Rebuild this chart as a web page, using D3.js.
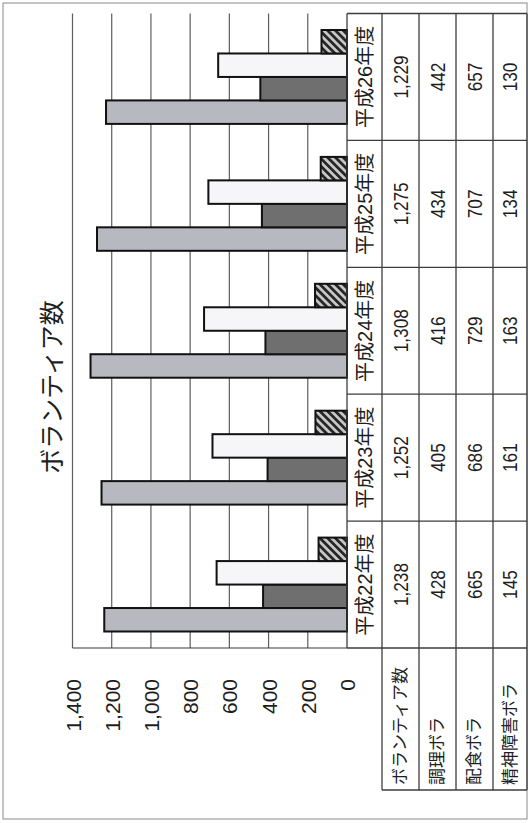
<!DOCTYPE html>
<html>
<head>
<meta charset="utf-8">
<script src="https://cdn.jsdelivr.net/npm/d3@7"></script>
<style>
	body { margin: 0; background: #fff; }
	text { font-family: "Liberation Sans", "Noto Sans CJK JP", sans-serif; fill: #1e1e1e; }
</style>
</head>
<body>
<script>
// data
var years = ['平成22年度', '平成23年度', '平成24年度', '平成25年度', '平成26年度'];
var seriesNames = ['ボランティア数', '調理ボラ', '配食ボラ', '精神障害ボラ'];
var volunteerTotal = [1238, 1252, 1308, 1275, 1229];
var cookingVol = [428, 405, 416, 434, 442];
var deliveryVol = [665, 686, 729, 707, 657];
var mentalVol = [145, 161, 163, 134, 130];
var yTicks = [0, 200, 400, 600, 800, 1000, 1200, 1400];
var chartTitle = 'ボランティア数';

var seriesValues = [volunteerTotal, cookingVol, deliveryVol, mentalVol];

// the page is a scanned chart turned on its side: draw it flat, then rotate
var W = 823, H = 528;
var props = {
	plotLeft: 175, plotRight: 809.5,
	plotTop: 72.5, plotBottom: 347,
	labelCol: 33,
	rowLines: [347, 382, 419, 456, 493, 527]
};

var svg = d3.select('body').append('svg')
	.attr('width', H)
	.attr('height', W);

var defs = svg.append('defs');
var hatch = defs.append('pattern')
	.attr('id', 'hatch')
	.attr('patternUnits', 'userSpaceOnUse')
	.attr('width', 5.5)
	.attr('height', 5.5)
	.attr('patternTransform', 'rotate(45)');
hatch.append('rect').attr('width', 5.5).attr('height', 5.5).attr('fill', '#c9c9c9');
hatch.append('rect').attr('width', 2.8).attr('height', 5.5).attr('fill', '#262626');

var fills = ['#b8b8c0', '#6f6f6f', '#f6f6f8', 'url(#hatch)'];

var g = svg.append('g')
	.attr('transform', 'translate(0,' + W + ') rotate(-90)');

// outer frame
g.append('rect')
	.attr('x', 4).attr('y', 3)
	.attr('width', 816).attr('height', 524)
	.attr('fill', 'none')
	.attr('stroke', '#8a8a8a')
	.attr('stroke-width', 1);

var x0 = d3.scaleBand()
	.domain(years)
	.range([props.plotLeft, props.plotRight]);

var x1 = d3.scaleBand()
	.domain(seriesNames)
	.range([16.5, x0.bandwidth() - 16.5]);

var y = d3.scaleLinear()
	.domain([0, 1400])
	.range([props.plotBottom, props.plotTop]);

// gridlines
g.append('g').selectAll('line')
	.data(yTicks.filter(function(d) { return d > 0; }))
	.enter().append('line')
		.attr('x1', props.plotLeft).attr('x2', props.plotRight)
		.attr('y1', function(d) { return y(d); })
		.attr('y2', function(d) { return y(d); })
		.attr('stroke', '#5e5e5e')
		.attr('stroke-width', 1.2);

// value axis line
g.append('line')
	.attr('x1', props.plotLeft).attr('x2', props.plotLeft)
	.attr('y1', y(1400)).attr('y2', y(0))
	.attr('stroke', '#3a3a3a')
	.attr('stroke-width', 1.2);

// tick labels
var yAxis = d3.axisLeft(y)
	.tickValues(yTicks)
	.tickFormat(d3.format(','))
	.tickSize(0)
	.tickPadding(0);

var axisG = g.append('g')
	.attr('transform', 'translate(144,0)')
	.call(yAxis);
axisG.select('.domain').remove();
axisG.selectAll('text')
	.attr('dy', null)
	.attr('dominant-baseline', 'central')
	.style('font-size', '21px')
	.style('font-family', '"Liberation Sans", Arial, sans-serif')
	.style('fill', '#1e1e1e');

// bars
var groups = g.append('g').selectAll('g')
	.data(years)
	.enter().append('g')
		.attr('transform', function(d) { return 'translate(' + x0(d) + ',0)'; });

groups.selectAll('rect')
	.data(function(d, i) {
		return seriesNames.map(function(s, j) {
			return { series: s, idx: j, value: seriesValues[j][i] };
		});
	})
	.enter().append('rect')
		.attr('x', function(d) { return x1(d.series); })
		.attr('width', x1.bandwidth())
		.attr('y', function(d) { return y(d.value); })
		.attr('height', function(d) { return y(0) - y(d.value); })
		.attr('fill', function(d) { return fills[d.idx]; })
		.attr('stroke', '#111')
		.attr('stroke-width', 2);

// data table
var table = g.append('g');
var lineColor = '#3c3c3c';

// horizontal rules
props.rowLines.forEach(function(v, i) {
	table.append('line')
		.attr('x1', i === 0 ? props.plotLeft : props.labelCol)
		.attr('x2', props.plotRight)
		.attr('y1', v).attr('y2', v)
		.attr('stroke', lineColor)
		.attr('stroke-width', 1.3);
});

// vertical rules
var colEdges = years.map(function(d) { return x0(d); }).concat([props.plotRight]);
colEdges.forEach(function(u) {
	table.append('line')
		.attr('x1', u).attr('x2', u)
		.attr('y1', props.rowLines[0]).attr('y2', props.rowLines[5])
		.attr('stroke', lineColor)
		.attr('stroke-width', 1.3);
});
table.append('line')
	.attr('x1', props.labelCol).attr('x2', props.labelCol)
	.attr('y1', props.rowLines[1]).attr('y2', props.rowLines[5])
	.attr('stroke', lineColor)
	.attr('stroke-width', 1.3);

// header cells
table.selectAll('.hdr')
	.data(years)
	.enter().append('text')
		.attr('class', 'hdr')
		.attr('x', function(d) { return x0(d) + x0.bandwidth() / 2; })
		.attr('y', (props.rowLines[0] + props.rowLines[1]) / 2)
		.attr('text-anchor', 'middle')
		.attr('dominant-baseline', 'central')
		.style('font-size', '20px')
		.text(function(d) { return d; });

// row labels and values
seriesNames.forEach(function(s, j) {
	var vMid = (props.rowLines[j + 1] + props.rowLines[j + 2]) / 2;
	table.append('text')
		.attr('x', props.labelCol + 5)
		.attr('y', vMid)
		.attr('dominant-baseline', 'central')
		.style('font-size', '17px')
		.text(s);

	table.selectAll('.val' + j)
		.data(seriesValues[j])
		.enter().append('text')
			.attr('class', 'val' + j)
			.attr('transform', function(d, i) {
				return 'translate(' + (x0(years[i]) + x0.bandwidth() / 2) + ',' + vMid + ') scale(0.82,1)';
			})
			.attr('text-anchor', 'middle')
			.attr('dominant-baseline', 'central')
			.style('font-size', '21px')
			.text(function(d) { return d3.format(',')(d); });
});

// title
g.append('text')
	.attr('x', 436)
	.attr('y', 52)
	.attr('text-anchor', 'middle')
	.attr('dominant-baseline', 'central')
	.style('font-size', '25px')
	.text(chartTitle);
</script>
</body>
</html>
